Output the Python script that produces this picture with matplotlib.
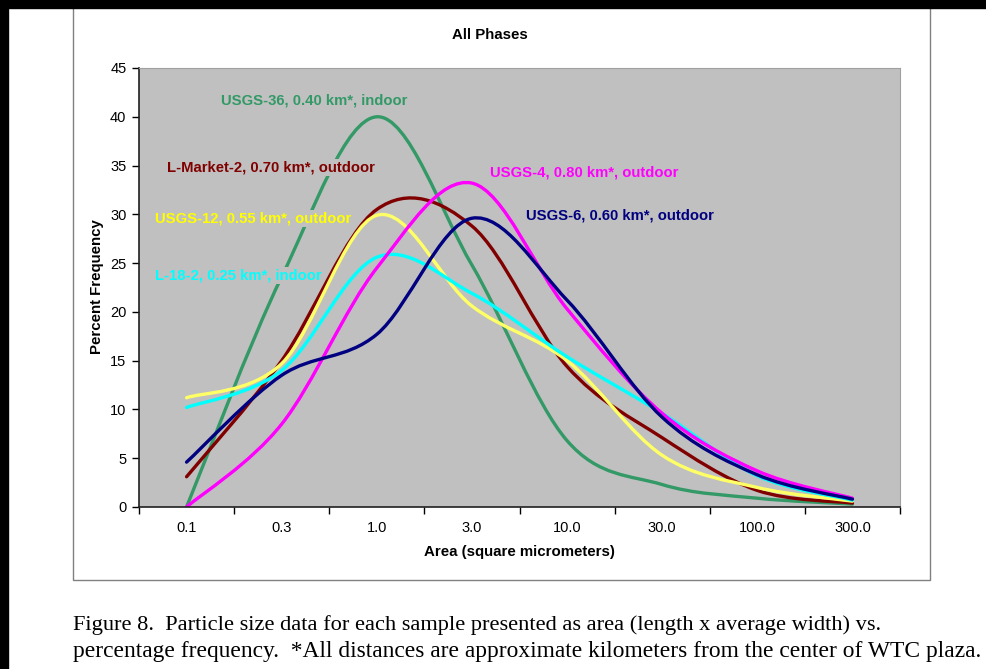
import matplotlib
matplotlib.use("Agg")
import matplotlib.pyplot as plt
import numpy as np
from matplotlib.path import Path
from matplotlib.patches import PathPatch, Rectangle

# x categories (square micrometers)
areas = ["0.1", "0.3", "1.0", "3.0", "10.0", "30.0", "100.0", "300.0"]

usgs36 = [0.0, 23.6, 40.0, 24.8, 6.8, 2.3, 0.9, 0.3]
lmarket2 = [3.1, 15.0, 30.5, 28.8, 14.4, 7.1, 1.7, 0.4]
usgs12 = [11.2, 14.7, 29.9, 20.6, 15.0, 5.3, 2.0, 0.6]
l182 = [10.2, 14.0, 25.6, 21.9, 15.4, 9.6, 3.2, 0.7]
usgs4 = [0.0, 8.5, 24.5, 33.2, 20.3, 9.6, 3.7, 0.9]
usgs6 = [4.6, 13.5, 17.7, 29.6, 21.2, 9.2, 3.3, 0.8]

series = [
    ("USGS-36, 0.40 km*, indoor", usgs36, "#339966", (0.36, 41.7)),
    ("L-Market-2, 0.70 km*, outdoor", lmarket2, "#800000", (-0.21, 34.85)),
    ("USGS-12, 0.55 km*, outdoor", usgs12, "#FFFF66", (-0.335, 29.6)),
    ("L-18-2, 0.25 km*, indoor", l182, "#00FFFF", (-0.335, 23.7)),
    ("USGS-4, 0.80 km*, outdoor", usgs4, "#FF00FF", (3.19, 34.3)),
    ("USGS-6, 0.60 km*, outdoor", usgs6, "#000080", (3.57, 29.9)),
]
label_colors = {"USGS-12, 0.55 km*, outdoor": "#FFFF00"}


def smooth_path(xs, ys):
    """Excel-style smoothed line through the points (cubic bezier)."""
    pts = np.column_stack([xs, ys]).astype(float)
    n = len(pts)
    verts = [pts[0]]
    codes = [Path.MOVETO]
    for i in range(n - 1):
        p0 = pts[max(i - 1, 0)]
        p1 = pts[i]
        p2 = pts[i + 1]
        p3 = pts[min(i + 2, n - 1)]
        c1 = p1 + (p2 - p0) / 6.0
        c2 = p2 - (p3 - p1) / 6.0
        verts += [c1, c2, p2]
        codes += [Path.CURVE4] * 3
    return Path(verts, codes)


fig = plt.figure(figsize=(9.86, 6.69), dpi=100)
fig.patch.set_facecolor("white")

# scanned page edges and chart frame
fig.add_artist(Rectangle((73 / 986, 1 - 580 / 669), (930 - 73) / 986, 575 / 669,
                         transform=fig.transFigure, fill=False,
                         edgecolor="#808080", lw=1.0))
fig.add_artist(Rectangle((0, 1 - 8 / 669), 1, 8 / 669, transform=fig.transFigure,
                         color="black", zorder=5))
fig.add_artist(Rectangle((0, 0), 8 / 986, 1, transform=fig.transFigure,
                         color="black", zorder=5))

ax = fig.add_axes([139 / 986, 1 - 507 / 669, 761 / 986, 439 / 669])
ax.set_facecolor("#C0C0C0")

xs = np.arange(len(areas))
for name, vals, color, pos in series:
    ax.add_patch(PathPatch(smooth_path(xs, vals), fill=False, edgecolor=color,
                           lw=2.4, capstyle="round", zorder=2))
    ax.text(pos[0], pos[1], name, color=label_colors.get(name, color),
            fontsize=10.7, fontweight="bold", family="Liberation Sans",
            ha="left", va="center", zorder=3,
            bbox=dict(boxstyle="square,pad=0.1", fc="#C0C0C0", ec="none"))

ax.set_xlim(-0.5, len(areas) - 0.5)
ax.set_ylim(0, 45)
ax.set_yticks(np.arange(0, 46, 5))
ax.set_xticks(np.arange(-0.5, len(areas), 1.0))
ax.set_xticklabels([])
ax.set_xticks(xs, minor=True)
ax.set_xticklabels(areas, minor=True)
ax.tick_params(axis="x", which="major", length=5, width=1, direction="out")
ax.tick_params(axis="x", which="minor", length=0, pad=10)
ax.tick_params(axis="y", length=5, width=1, direction="out", pad=4)
for lab in ax.get_xticklabels(minor=True) + ax.get_yticklabels():
    lab.set_fontsize(10.5)
    lab.set_family("Liberation Sans")

for s in ["top", "right"]:
    ax.spines[s].set_color("#A0A0A0")
    ax.spines[s].set_linewidth(0.8)
for s in ["left", "bottom"]:
    ax.spines[s].set_color("#202020")
    ax.spines[s].set_linewidth(1.2)

fig.text(490 / 986, 1 - 35 / 669, "All Phases", ha="center", va="center",
         fontsize=10.8, fontweight="bold", family="Liberation Sans")
fig.text(519 / 986, 1 - 552 / 669, "Area (square micrometers)", ha="center",
         va="center", fontsize=10.8, fontweight="bold", family="Liberation Sans")
fig.text(97 / 986, 1 - 287 / 669, "Percent Frequency", ha="center",
         va="center", rotation=90, fontsize=10.8, fontweight="bold",
         family="Liberation Sans")

# caption below the chart
fig.text(73 / 986, 1 - 625 / 669,
         "Figure 8.  Particle size data for each sample presented as area "
         "(length x average width) vs.",
         ha="left", va="center", fontsize=16.1, family="Liberation Serif")
fig.text(73 / 986, 1 - 652 / 669,
         "percentage frequency.  *All distances are approximate kilometers "
         "from the center of WTC plaza.",
         ha="left", va="center", fontsize=16.9, family="Liberation Serif")

fig.savefig("out.png", dpi=100)
